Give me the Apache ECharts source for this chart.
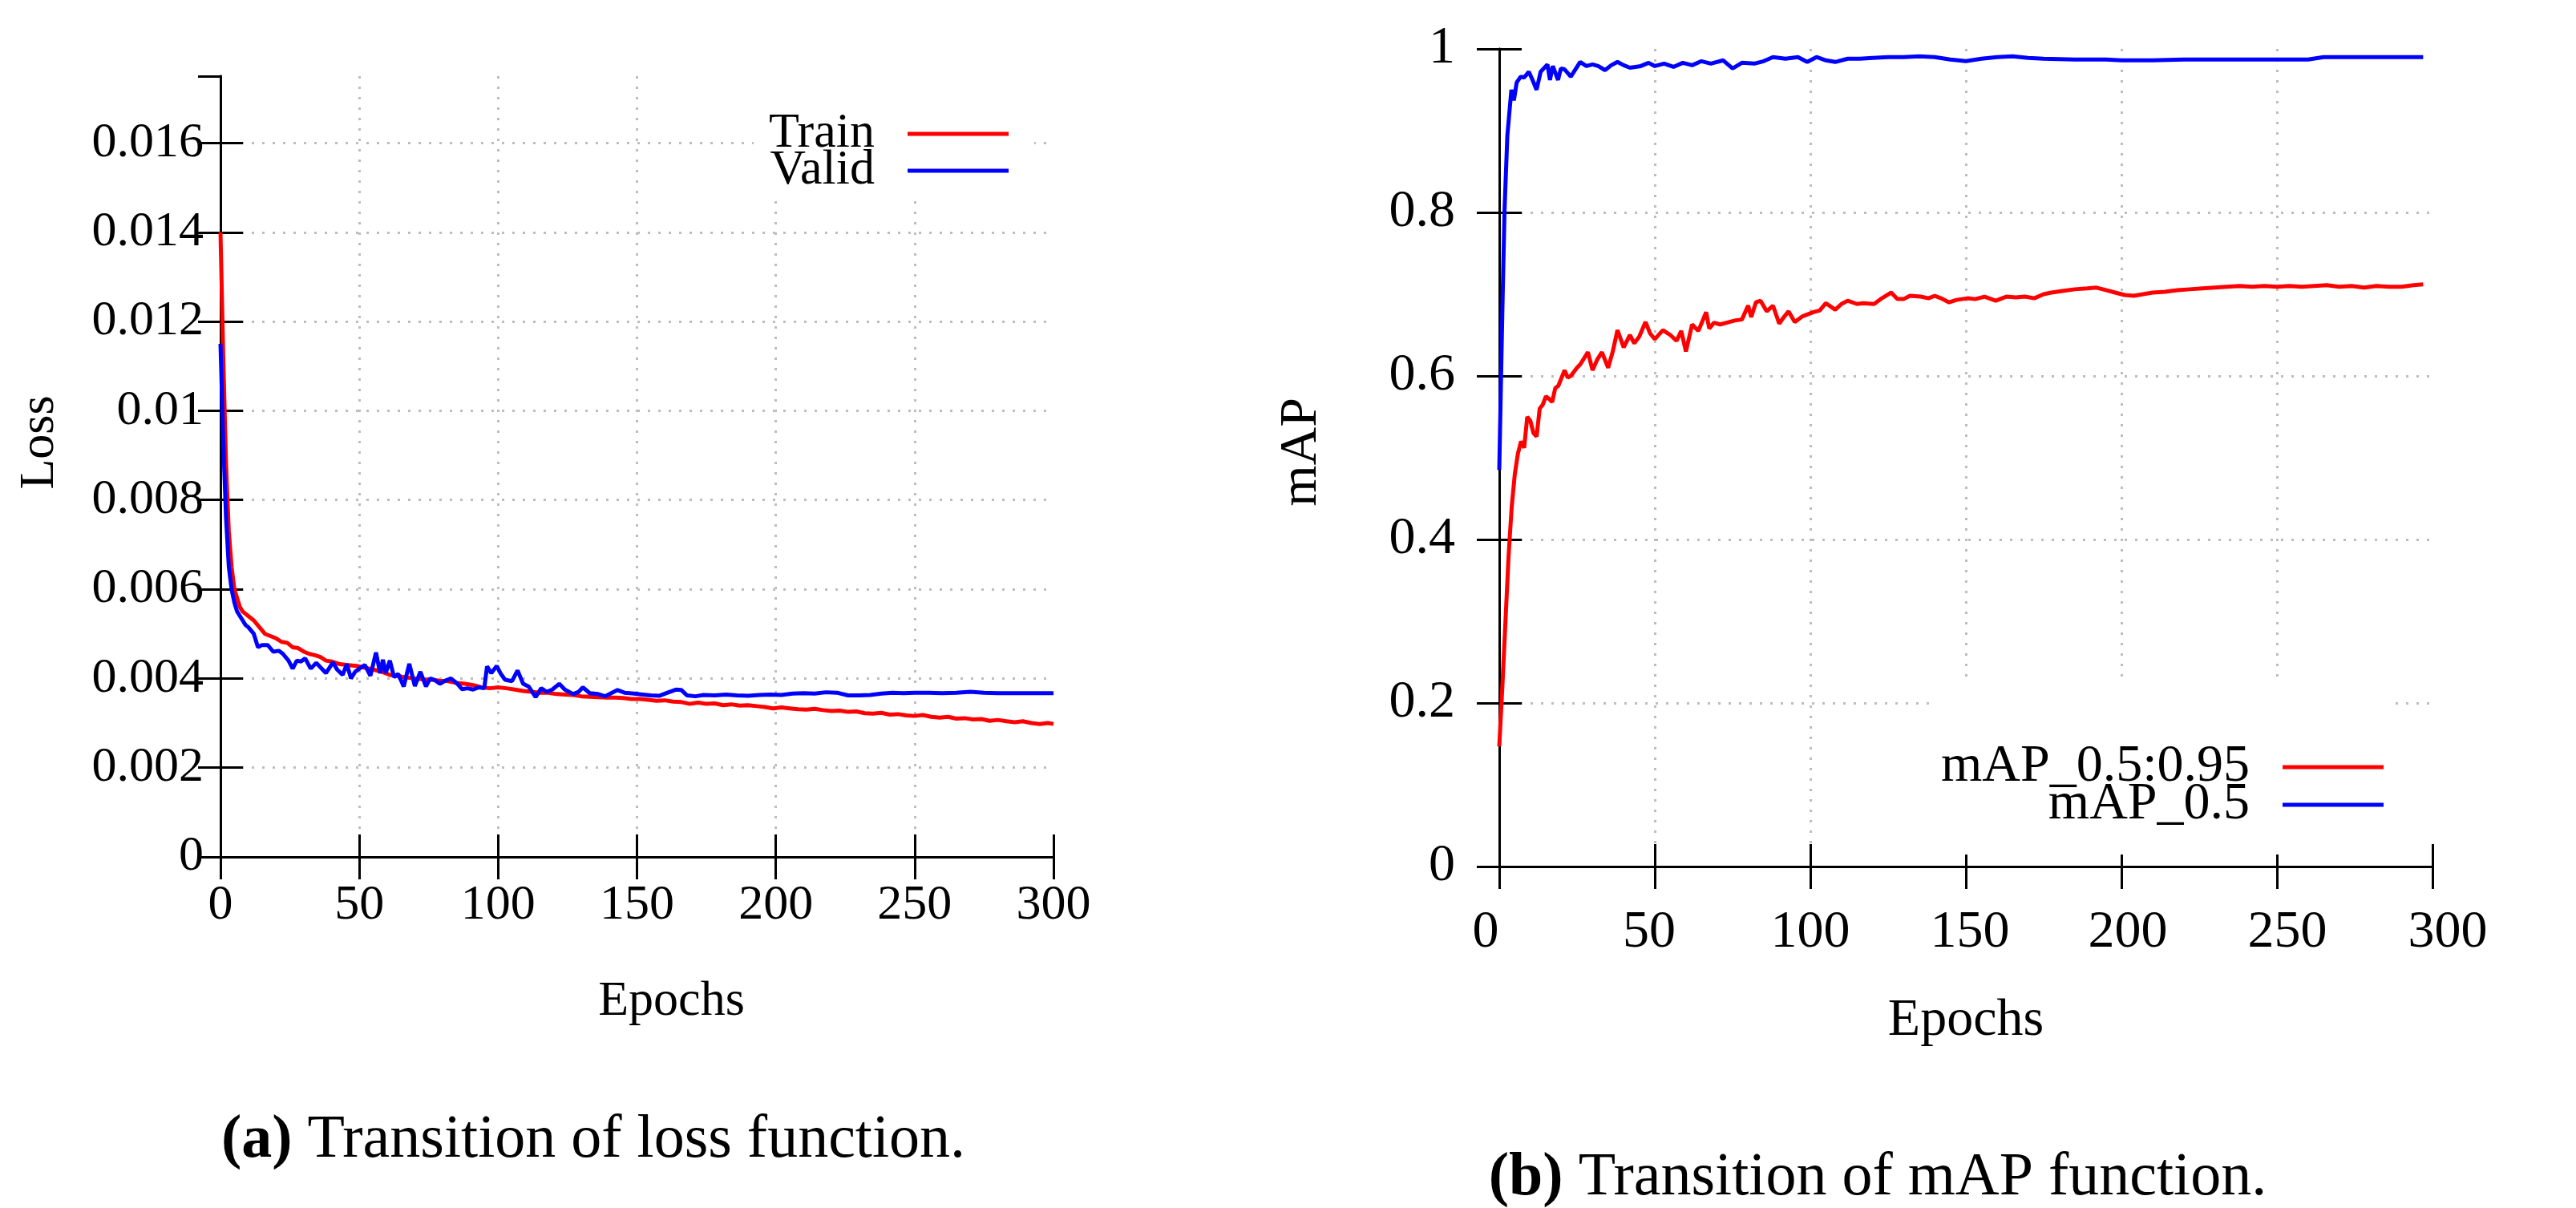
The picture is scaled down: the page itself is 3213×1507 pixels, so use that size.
<!DOCTYPE html>
<html>
<head>
<meta charset="utf-8">
<script src="https://cdn.jsdelivr.net/npm/echarts@6/dist/echarts.min.js"></script>
<style>
html,body{margin:0;padding:0;background:#fff;}
#chart{width:3213px;height:1507px;}
</style>
</head>
<body>
<div id="chart"></div>
<script>
// ---- Data ----
const epochTicks = [0, 50, 100, 150, 200, 250, 300];
const lossTicks = [0, 0.002, 0.004, 0.006, 0.008, 0.01, 0.012, 0.014, 0.016];
const mapTicks = [0, 0.2, 0.4, 0.6, 0.8, 1];
const lossSeriesNames = ['Train', 'Valid'];
const mapSeriesNames = ['mAP_0.5:0.95', 'mAP_0.5'];

const trainLoss = [[0,0.0140],[1,0.0112],[2,0.0088],[3,0.0073],[4,0.0065],[5,0.0060],[6,0.0058],[7,0.0056],[8,0.0055],[10,0.0054],[12,0.0053],[14,0.00515],[16,0.0050],[18,0.00495],[20,0.0049],[22,0.00482],[24,0.0048],[26,0.0047],[28,0.00468],[30,0.0046],[32,0.00455],[34,0.00452],[36,0.00448],[38,0.0044],[40,0.00438],[43,0.00432],[46,0.0043],[49,0.00428],[52,0.00424],[55,0.0042],[58,0.00415],[61,0.00408],[64,0.00405],[67,0.00402],[70,0.004],[73,0.00398],[76,0.00397],[79,0.00395],[82,0.00394],[85,0.0039],[88,0.00388],[91,0.00385],[94,0.0038],[97,0.00378],[100,0.0038],[103,0.00378],[106,0.00375],[109,0.00372],[112,0.0037],[115,0.00368],[118,0.00368],[121,0.00365],[124,0.00364],[127,0.00363],[130,0.0036],[133,0.00359],[136,0.00358],[139,0.00357],[142,0.00357],[145,0.00356],[148,0.00354],[151,0.00354],[154,0.00352],[157,0.0035],[160,0.00351],[163,0.00348],[166,0.00347],[169,0.00343],[172,0.00346],[175,0.00343],[178,0.00344],[181,0.0034],[184,0.00342],[187,0.00339],[190,0.0034],[193,0.00338],[196,0.00336],[199,0.00333],[202,0.00335],[205,0.00333],[208,0.00331],[211,0.0033],[214,0.00332],[217,0.00329],[220,0.00327],[223,0.00328],[226,0.00325],[229,0.00326],[232,0.00322],[235,0.00321],[238,0.00323],[241,0.00319],[244,0.0032],[247,0.00317],[250,0.00316],[253,0.00318],[256,0.00314],[259,0.00312],[262,0.00314],[265,0.0031],[268,0.00311],[271,0.00308],[274,0.00309],[277,0.00305],[280,0.00307],[283,0.00304],[286,0.00302],[289,0.00304],[292,0.003],[295,0.00298],[298,0.003],[300,0.00298]];

const validLoss = [[0,0.0115],[1,0.0093],[2,0.0076],[3,0.0065],[4,0.0060],[5,0.0057],[6,0.0055],[7,0.0054],[8,0.0053],[9,0.0052],[10,0.00515],[12,0.0050],[13.5,0.0047],[15,0.00475],[17,0.00475],[19,0.0046],[21,0.00462],[22.5,0.00455],[24.5,0.0044],[26,0.00422],[27.5,0.0044],[29,0.00438],[30.5,0.00445],[32.5,0.00422],[34.5,0.00435],[36,0.00425],[38,0.00412],[40.5,0.00436],[42,0.0042],[44,0.00408],[45.5,0.00432],[47,0.004],[48.5,0.00415],[50,0.00422],[52,0.0043],[54,0.00406],[56,0.00458],[57.5,0.00412],[58.5,0.00442],[59.5,0.00412],[61,0.0044],[62.5,0.00403],[64,0.0041],[66,0.00382],[68,0.00433],[70,0.00383],[72,0.00415],[74,0.00382],[75.5,0.004],[77,0.00397],[79,0.00388],[81,0.00395],[83,0.004],[85,0.0039],[87,0.00376],[89,0.00378],[91,0.00375],[93,0.0038],[95,0.00378],[96,0.00427],[97.5,0.00412],[99.5,0.00428],[101,0.0041],[102.5,0.00397],[105,0.00394],[107,0.00418],[109,0.00388],[111,0.00382],[113.5,0.00358],[115.5,0.00378],[117.5,0.0037],[119.5,0.00375],[122,0.00388],[124,0.00375],[127,0.00365],[129,0.0037],[130.5,0.0038],[133,0.00367],[136,0.00365],[138.5,0.0036],[141,0.00368],[143,0.00374],[145.5,0.00368],[149,0.00366],[152,0.00364],[155,0.00362],[158,0.00361],[161,0.00368],[164,0.00375],[166,0.00374],[168,0.00362],[171,0.0036],[174,0.00363],[178,0.00362],[182,0.00364],[186,0.00362],[190,0.00361],[194,0.00363],[198,0.00364],[202,0.00363],[206,0.00366],[210,0.00367],[214,0.00366],[218,0.00369],[222,0.00368],[226,0.00362],[230,0.00362],[234,0.00363],[238,0.00366],[242,0.00368],[246,0.00367],[250,0.00368],[255,0.00368],[260,0.00367],[265,0.00368],[270,0.0037],[275,0.00368],[280,0.00367],[285,0.00367],[290,0.00367],[295,0.00367],[300,0.00367]];

const mapStrict = [[0,0.147],[1,0.22],[2,0.3],[3,0.38],[4,0.44],[5,0.48],[6,0.505],[7,0.52],[8,0.512],[9,0.55],[10,0.545],[11,0.53],[12,0.526],[13,0.56],[14,0.565],[15,0.575],[16,0.572],[17,0.568],[18,0.585],[19,0.588],[21,0.607],[22,0.598],[23,0.6],[25,0.61],[26,0.614],[28.5,0.629],[30,0.607],[31.5,0.62],[33,0.629],[35,0.61],[36.5,0.63],[38,0.656],[40,0.635],[42,0.65],[43.4,0.64],[45,0.648],[47,0.666],[48.5,0.652],[50,0.645],[52.6,0.656],[55,0.65],[57,0.643],[58.5,0.655],[60,0.63],[62,0.663],[64,0.655],[66.5,0.678],[67.5,0.658],[69,0.665],[71,0.663],[74,0.666],[76,0.668],[78,0.669],[80,0.686],[81,0.672],[82.5,0.69],[84,0.692],[86,0.679],[88,0.686],[90,0.664],[91.5,0.672],[93,0.679],[95,0.666],[97.5,0.673],[101,0.678],[103,0.68],[105,0.689],[108,0.681],[110,0.688],[112,0.692],[115,0.688],[117,0.689],[120.5,0.688],[123,0.695],[126,0.702],[128,0.694],[130,0.694],[132,0.698],[135.5,0.697],[138,0.695],[140,0.698],[142,0.695],[144.6,0.69],[147,0.693],[150.5,0.695],[153,0.694],[156,0.697],[159.6,0.692],[163,0.697],[166,0.696],[169,0.697],[172,0.695],[175,0.7],[177.5,0.702],[181,0.704],[185,0.706],[189,0.707],[192,0.708],[195,0.705],[198,0.702],[201,0.699],[204,0.698],[207,0.7],[210,0.702],[214,0.703],[218,0.705],[222,0.706],[226,0.707],[230,0.708],[234,0.709],[238,0.71],[242,0.709],[246,0.71],[250,0.709],[254,0.71],[258,0.709],[262,0.71],[266,0.711],[270,0.709],[274,0.71],[278,0.708],[282,0.71],[286,0.709],[290,0.709],[294,0.711],[297,0.712]];

const map50 = [[0,0.485],[1,0.68],[1.7,0.803],[2.6,0.894],[3.9,0.95],[4.7,0.937],[5.6,0.959],[6.9,0.966],[8,0.965],[9.5,0.972],[10.7,0.962],[12,0.95],[13.3,0.972],[15.5,0.981],[16.3,0.962],[17.2,0.979],[18.9,0.962],[19.8,0.976],[21,0.975],[23,0.966],[26,0.984],[28,0.979],[30,0.981],[31.8,0.979],[34,0.974],[36,0.98],[38,0.984],[40,0.98],[42,0.977],[45.5,0.979],[48,0.983],[50,0.979],[53,0.982],[56,0.978],[59,0.983],[62,0.98],[65,0.985],[68,0.982],[72,0.986],[75,0.976],[78,0.983],[82,0.982],[85,0.985],[88,0.99],[92,0.988],[96,0.99],[99,0.984],[102,0.99],[105,0.986],[108,0.984],[112,0.988],[116,0.988],[120,0.989],[125,0.99],[130,0.99],[135,0.991],[140,0.99],[145,0.987],[150,0.985],[155,0.988],[160,0.99],[165,0.991],[170,0.989],[175,0.988],[185,0.987],[195,0.987],[200,0.986],[210,0.986],[220,0.987],[230,0.987],[240,0.987],[250,0.987],[260,0.987],[265,0.99],[275,0.99],[285,0.99],[297,0.99]];

// ---- Styling helpers ----
const FONT = 'Liberation Serif';
const BLACK = '#000';
const gridDots = {type: [3, 10], color: '#bdbdbd', width: 3};

// small horizontal nudges of the right panel's epoch labels (px), as in the reference
const rightLabelShift = {0: -17, 50: -7, 100: 0, 150: 5, 200: 8, 250: 13, 300: 19};
const rightLabelRich = {};
Object.keys(rightLabelShift).forEach(function (k) {
  const s = rightLabelShift[k];
  const key = (s >= 0 ? 'p' : 'm') + Math.abs(s);
  rightLabelRich[key] = {
    fontFamily: FONT, fontSize: 66, color: BLACK,
    padding: s >= 0 ? [0, 0, 0, 2 * s] : [0, -2 * s, 0, 0]
  };
});
function rightLabelFormatter(v) {
  const s = rightLabelShift[v] || 0;
  const key = (s >= 0 ? 'p' : 'm') + Math.abs(s);
  return '{' + key + '|' + v + '}';
}

function mainX(gridIndex, fontSize, margin, nameGap, namePad, formatter, rich) {
  const lab = {color: BLACK, fontFamily: FONT, fontSize, margin};
  if (formatter) { lab.formatter = formatter; lab.rich = rich; }
  return {
    gridIndex, type: 'value', position: 'bottom',
    min: epochTicks[0], max: epochTicks[epochTicks.length - 1], interval: epochTicks[1] - epochTicks[0],
    axisLine: {show: true, lineStyle: {color: BLACK, width: 3}},
    axisTick: {show: true, inside: true, length: 28, lineStyle: {color: BLACK, width: 3}},
    axisLabel: lab,
    splitLine: {show: true, showMinLine: false, showMaxLine: false, lineStyle: gridDots},
    name: 'Epochs', nameLocation: 'middle', nameGap,
    nameTextStyle: {color: BLACK, fontFamily: FONT, fontSize, padding: namePad}
  };
}
function mirrorX(gridIndex) {
  return {
    gridIndex, type: 'value', position: 'top',
    min: epochTicks[0], max: epochTicks[epochTicks.length - 1], interval: epochTicks[1] - epochTicks[0],
    axisLine: {show: true, lineStyle: {color: BLACK, width: 3}},
    axisTick: {show: true, inside: true, length: 28, lineStyle: {color: BLACK, width: 3}},
    axisLabel: {show: false}, splitLine: {show: false}
  };
}
function mainY(gridIndex, ticks, max, name, fontSize, margin, nameGap, labelPad, namePad) {
  return {
    gridIndex, type: 'value', position: 'left',
    min: ticks[0], max, interval: ticks[1] - ticks[0],
    axisLine: {show: true, lineStyle: {color: BLACK, width: 3}},
    axisTick: {show: true, inside: true, length: 28, lineStyle: {color: BLACK, width: 3}},
    axisLabel: {color: BLACK, fontFamily: FONT, fontSize, margin, showMaxLabel: max === ticks[ticks.length - 1], padding: labelPad},
    splitLine: {show: true, showMinLine: false, showMaxLine: false, lineStyle: gridDots},
    name, nameLocation: 'middle', nameGap,
    nameTextStyle: {color: BLACK, fontFamily: FONT, fontSize, padding: namePad}
  };
}
function mirrorY(gridIndex, ticks, max) {
  return {
    gridIndex, type: 'value', position: 'right',
    min: ticks[0], max, interval: ticks[1] - ticks[0],
    axisLine: {show: true, lineStyle: {color: BLACK, width: 3}},
    axisTick: {show: true, inside: true, length: 28, lineStyle: {color: BLACK, width: 3}},
    axisLabel: {show: false}, splitLine: {show: false}
  };
}
function lineSeries(name, data, color, xi, yi) {
  return {
    type: 'line', name, data, xAxisIndex: xi, yAxisIndex: yi,
    showSymbol: false, symbol: 'none', clip: true,
    lineStyle: {width: 5, color}, itemStyle: {color},
    emphasis: {disabled: true}
  };
}
function legendItem(name, right, top, fontSize, z, bg, padding) {
  return {
    data: [name], orient: 'vertical', align: 'right', z,
    right, top, itemWidth: 126, itemHeight: 5, itemGap: 0, icon: 'rect',
    backgroundColor: bg, padding, selectedMode: false,
    textStyle: {color: BLACK, fontFamily: FONT, fontSize, padding: [0, 36, 0, 0]}
  };
}

const chart = echarts.init(document.getElementById('chart'), null, {renderer: 'canvas'});
chart.setOption({
  animation: false,
  backgroundColor: '#fff',
  grid: [
    {left: 275, top: 95, width: 1039, height: 974},
    {left: 1870, top: 61, width: 1164, height: 1020}
  ],
  xAxis: [
    mainX(0, 62, 30, 150, [0, 0, 0, 86]),
    mirrorX(0),
    mainX(1, 66, 50, 160, [0, 0, 0, 0], rightLabelFormatter, rightLabelRich),
    mirrorX(1)
  ],
  yAxis: [
    mainY(0, lossTicks, 0.0175, 'Loss', 62, 21, 194, [0, 0, 0, 0], [0, 0, 0, 60]),
    mirrorY(0, lossTicks, 0.0175),
    mainY(1, mapTicks, 1, 'mAP', 66, 55, 213, [32, 0, 0, 0], [0, 0, 0, 14]),
    mirrorY(1, mapTicks, 1)
  ],
  legend: [
    legendItem(lossSeriesNames[0], 1923, 95, 62, 4, '#fff', [41, 32, 50, 19]),
    legendItem(lossSeriesNames[1], 1955, 182, 62, 5, 'transparent', 0),
    legendItem(mapSeriesNames[0], 230, 854, 66, 4, '#fff', [70, 10, 76, 11]),
    legendItem(mapSeriesNames[1], 240, 971, 66, 5, 'transparent', 0)
  ],
  graphic: [
    {
      type: 'text', x: 740, y: 1423,
      style: {
        text: '{b|(a)}{n|\u00a0Transition of loss function.}',
        align: 'center', verticalAlign: 'middle',
        rich: {
          b: {fontFamily: FONT, fontSize: 76, fontWeight: 'bold', fill: BLACK},
          n: {fontFamily: FONT, fontSize: 76, fill: BLACK}
        }
      }
    },
    {
      type: 'text', x: 2342, y: 1470,
      style: {
        text: '{b|(b)}{n|\u00a0Transition of mAP function.}',
        align: 'center', verticalAlign: 'middle',
        rich: {
          b: {fontFamily: FONT, fontSize: 76, fontWeight: 'bold', fill: BLACK},
          n: {fontFamily: FONT, fontSize: 76, fill: BLACK}
        }
      }
    }
  ],
  series: [
    lineSeries(lossSeriesNames[0], trainLoss, '#ff0000', 0, 0),
    lineSeries(lossSeriesNames[1], validLoss, '#0000ff', 0, 0),
    lineSeries(mapSeriesNames[0], mapStrict, '#ff0000', 2, 2),
    lineSeries(mapSeriesNames[1], map50, '#0000ff', 2, 2)
  ]
});
</script>
</body>
</html>
